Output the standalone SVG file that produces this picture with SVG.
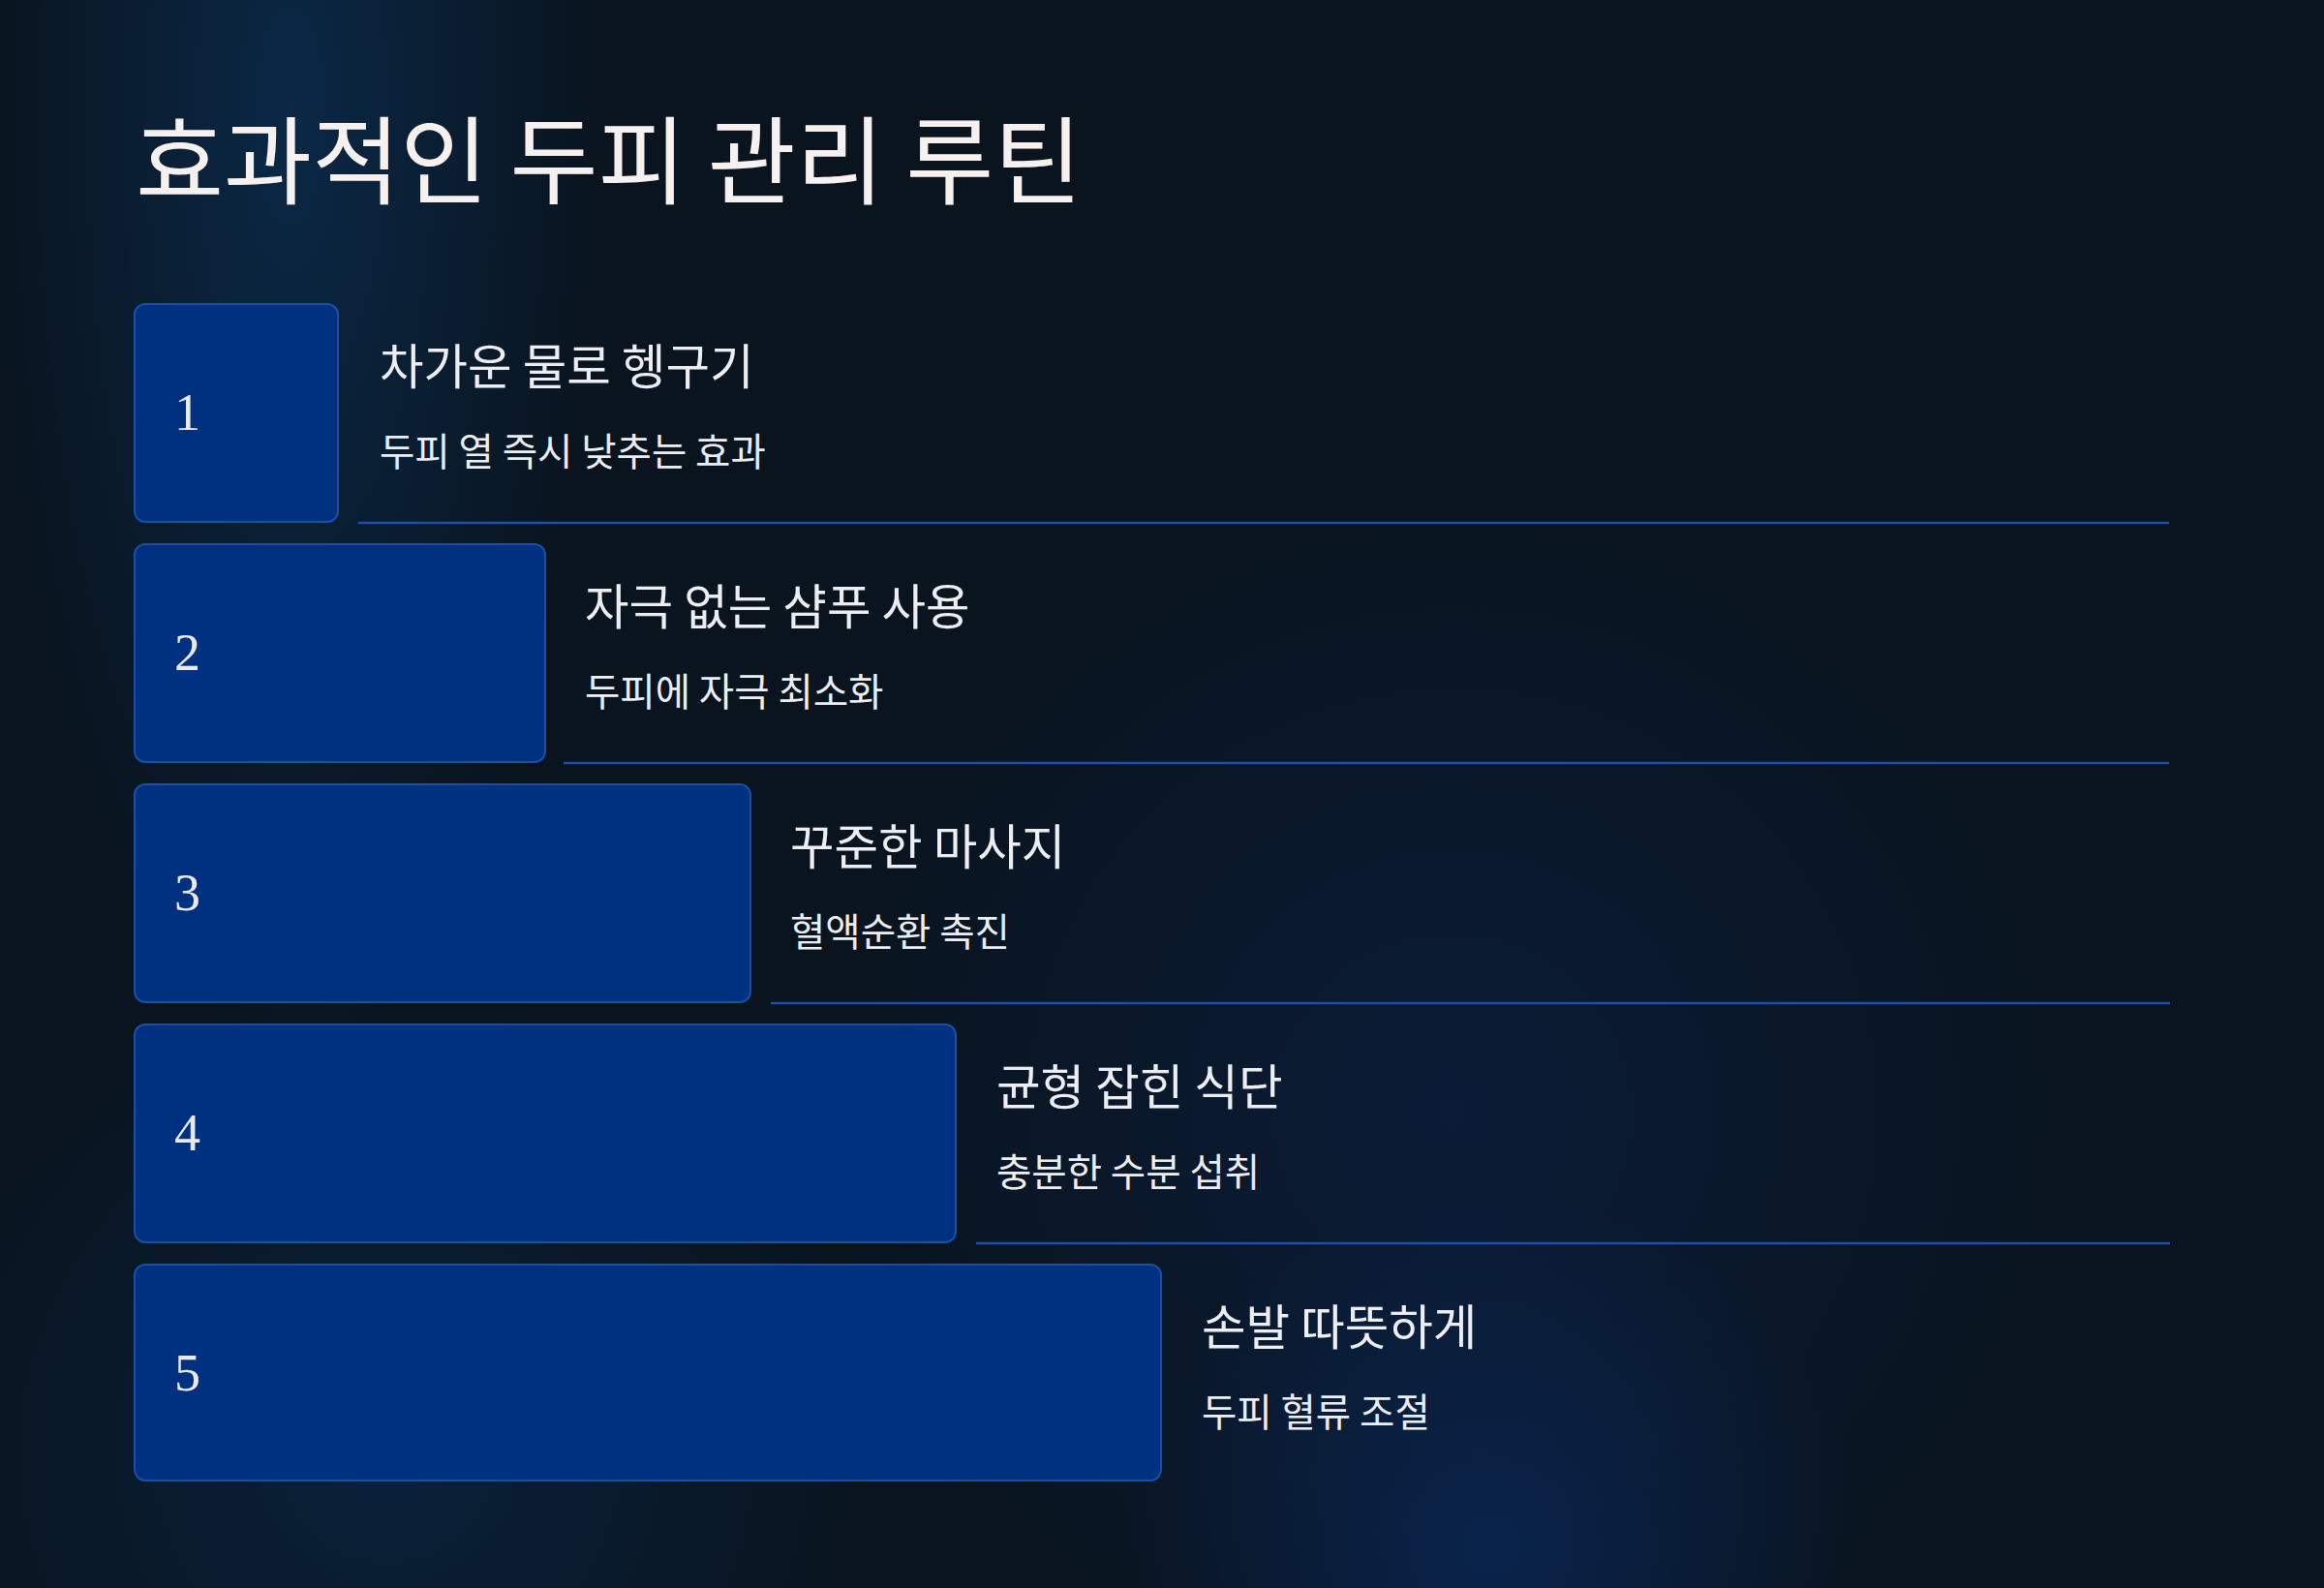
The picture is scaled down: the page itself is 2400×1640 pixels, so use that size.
<svg xmlns="http://www.w3.org/2000/svg" width="2400" height="1640" viewBox="0 0 2400 1640">
<defs>
<radialGradient id="g1" cx="300" cy="120" r="700" gradientUnits="userSpaceOnUse" gradientTransform="translate(300 120) scale(0.45 1.4) translate(-300 -120)">
<stop offset="0" stop-color="#0b2a4a" stop-opacity="0.9"/>
<stop offset="1" stop-color="#0b2a4a" stop-opacity="0"/>
</radialGradient>
<radialGradient id="g2" cx="1540" cy="1600" r="380" gradientUnits="userSpaceOnUse">
<stop offset="0" stop-color="#0a2550" stop-opacity="0.9"/>
<stop offset="1" stop-color="#0a2550" stop-opacity="0"/>
</radialGradient>
<radialGradient id="g3" cx="1500" cy="1150" r="650" gradientUnits="userSpaceOnUse">
<stop offset="0" stop-color="#0b1f40" stop-opacity="0.7"/>
<stop offset="1" stop-color="#0b1f40" stop-opacity="0"/>
</radialGradient>
<radialGradient id="g4" cx="400" cy="1500" r="500" gradientUnits="userSpaceOnUse">
<stop offset="0" stop-color="#0a2645" stop-opacity="0.7"/>
<stop offset="1" stop-color="#0a2645" stop-opacity="0"/>
</radialGradient>
<style>
.box{fill:#003080;stroke:#1c4ea6;stroke-width:2}
.num{font-family:"Liberation Serif","DejaVu Serif",serif;font-size:54px;fill:#e8eaf0}
.h{font-family:"Noto Sans CJK KR","Noto Sans",sans-serif;font-size:49.5px;fill:#eceef2}
.s{font-family:"Noto Sans CJK KR","Noto Sans",sans-serif;font-size:39.5px;fill:#eceef2}
.ln{stroke:#1d4ea8;stroke-width:2.5}
.title{font-family:"Noto Sans CJK KR","Noto Sans",sans-serif;font-size:99px;fill:#f6f1ef}
</style>
</defs>
<rect width="2400" height="1640" fill="#09141f"/>
<rect width="2400" height="1640" fill="url(#g1)"/>
<rect width="2400" height="1640" fill="url(#g3)"/>
<rect width="2400" height="1640" fill="url(#g4)"/>
<rect width="2400" height="1640" fill="url(#g2)"/>
<text class="title" x="140" y="203">효과적인 두피 관리 루틴</text>
<g id="connectors">
<line class="ln" x1="370" y1="540" x2="2240" y2="540"/>
<line class="ln" x1="582" y1="788" x2="2240" y2="788"/>
<line class="ln" x1="796" y1="1036" x2="2241" y2="1036"/>
<line class="ln" x1="1008" y1="1284" x2="2241" y2="1284"/>
</g>
<g id="step1">
<rect class="box" x="139" y="314" width="210" height="225" rx="11"/>
<text class="num" x="180" y="444">1</text>
<text class="h" x="392" y="397">차가운 물로 헹구기</text>
<text class="s" x="392" y="481">두피 열 즉시 낮추는 효과</text>
</g>
<g id="step2">
<rect class="box" x="139" y="562" width="424" height="225" rx="11"/>
<text class="num" x="180" y="692">2</text>
<text class="h" x="604" y="645">자극 없는 샴푸 사용</text>
<text class="s" x="604" y="729">두피에 자극 최소화</text>
</g>
<g id="step3">
<rect class="box" x="139" y="810" width="636" height="225" rx="11"/>
<text class="num" x="180" y="940">3</text>
<text class="h" x="816" y="893">꾸준한 마사지</text>
<text class="s" x="816" y="977">혈액순환 촉진</text>
</g>
<g id="step4">
<rect class="box" x="139" y="1058" width="848" height="225" rx="11"/>
<text class="num" x="180" y="1188">4</text>
<text class="h" x="1029" y="1141">균형 잡힌 식단</text>
<text class="s" x="1029" y="1225">충분한 수분 섭취</text>
</g>
<g id="step5">
<rect class="box" x="139" y="1306" width="1060" height="223" rx="11"/>
<text class="num" x="180" y="1436">5</text>
<text class="h" x="1241" y="1389">손발 따뜻하게</text>
<text class="s" x="1241" y="1473">두피 혈류 조절</text>
</g>
</svg>
